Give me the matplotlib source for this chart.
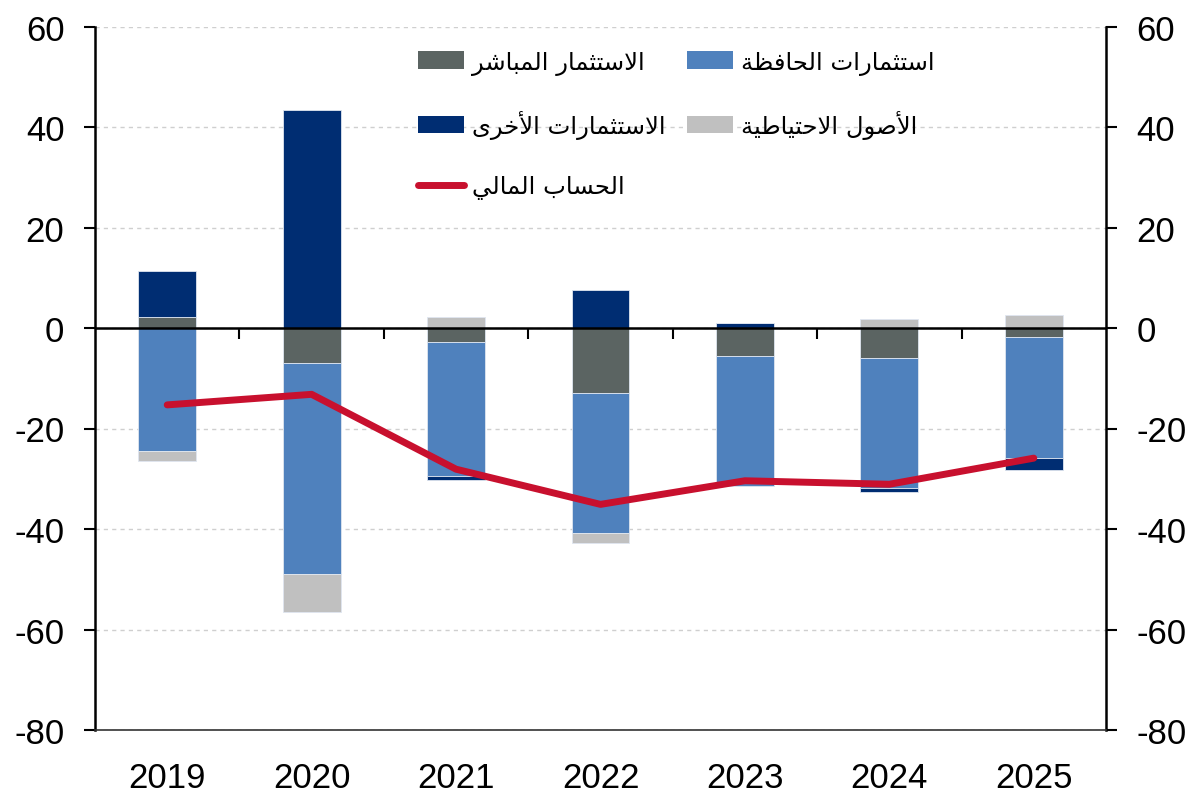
import matplotlib
matplotlib.use("Agg")
import matplotlib.pyplot as plt
import numpy as np
from matplotlib.patches import Patch
from matplotlib.lines import Line2D


years = ["2019", "2020", "2021", "2022", "2023", "2024", "2025"]
direct = [2.2, -7.0, -2.7, -13.0, -5.6, -6.0, -1.7]
portfolio = [-24.5, -42.0, -26.7, -27.7, -25.9, -25.8, -24.1]
other = [9.1, 43.4, -0.8, 7.6, 1.0, -0.8, -2.5]
reserve = [-2.0, -7.6, 2.1, -2.0, 0.0, 1.8, 2.6]
financial = [-15.3, -13.2, -28.1, -35.1, -30.4, -31.1, -25.9]

labels = {
    "direct": "الاستثمار المباشر",
    "portfolio": "استثمارات الحافظة",
    "other": "الاستثمارات الأخرى",
    "reserve": "الأصول الاحتياطية",
    "financial": "الحساب المالي",
}

colors = {
    "direct": "#5b6462",
    "portfolio": "#4f81bd",
    "other": "#002d72",
    "reserve": "#c0c0c0",
    "financial": "#c8102e",
}

# matplotlib has no Arabic shaping, so pick presentation forms by hand
# (isolated, final, initial, medial)
FORMS = {
    "ا": (0xFE8D, 0xFE8E, None, None),
    "أ": (0xFE83, 0xFE84, None, None),
    "ب": (0xFE8F, 0xFE90, 0xFE91, 0xFE92),
    "ة": (0xFE93, 0xFE94, None, None),
    "ت": (0xFE95, 0xFE96, 0xFE97, 0xFE98),
    "ث": (0xFE99, 0xFE9A, 0xFE9B, 0xFE9C),
    "ح": (0xFEA1, 0xFEA2, 0xFEA3, 0xFEA4),
    "خ": (0xFEA5, 0xFEA6, 0xFEA7, 0xFEA8),
    "ر": (0xFEAD, 0xFEAE, None, None),
    "س": (0xFEB1, 0xFEB2, 0xFEB3, 0xFEB4),
    "ش": (0xFEB5, 0xFEB6, 0xFEB7, 0xFEB8),
    "ص": (0xFEB9, 0xFEBA, 0xFEBB, 0xFEBC),
    "ط": (0xFEC1, 0xFEC2, 0xFEC3, 0xFEC4),
    "ظ": (0xFEC5, 0xFEC6, 0xFEC7, 0xFEC8),
    "ف": (0xFED1, 0xFED2, 0xFED3, 0xFED4),
    "ل": (0xFEDD, 0xFEDE, 0xFEDF, 0xFEE0),
    "م": (0xFEE1, 0xFEE2, 0xFEE3, 0xFEE4),
    "و": (0xFEED, 0xFEEE, None, None),
    "ى": (0xFEEF, 0xFEF0, None, None),
    "ي": (0xFEF1, 0xFEF2, 0xFEF3, 0xFEF4),
}
LAM_ALEF = {"ا": (0xFEFB, 0xFEFC), "أ": (0xFEF7, 0xFEF8)}


def shape(text):
    tokens = []
    i = 0
    while i < len(text):
        c = text[i]
        if c == "ل" and i + 1 < len(text) and text[i + 1] in LAM_ALEF:
            tokens.append(("la", text[i + 1]))
            i += 2
        else:
            tokens.append(("c", c))
            i += 1

    def is_letter(t):
        return t[0] == "la" or t[1] in FORMS

    def joins_next(t):
        return t[0] == "c" and t[1] in FORMS and FORMS[t[1]][2] is not None

    out = []
    for k, t in enumerate(tokens):
        prev = tokens[k - 1] if k > 0 else None
        nxt = tokens[k + 1] if k + 1 < len(tokens) else None
        p = prev is not None and joins_next(prev) and is_letter(t)
        if t[0] == "la":
            out.append(chr(LAM_ALEF[t[1]][1 if p else 0]))
            continue
        if t[1] not in FORMS:
            out.append(t[1])
            continue
        n = joins_next(t) and nxt is not None and is_letter(nxt)
        f = FORMS[t[1]]
        if p and n:
            out.append(chr(f[3]))
        elif p:
            out.append(chr(f[1]))
        elif n:
            out.append(chr(f[2]))
        else:
            out.append(chr(f[0]))
    return "".join(reversed(out))


plt.rcParams["font.family"] = ["Liberation Sans", "DejaVu Sans"]

fig = plt.figure(figsize=(12, 8.03), dpi=100)
ax = fig.add_axes([95 / 1200, 1 - 731 / 803, (1106 - 95) / 1200, (731 - 27.5) / 803])

x = np.arange(len(years))
width = 0.4
pos_base = np.zeros(len(years))
neg_base = np.zeros(len(years))
for key, vals in [("direct", direct), ("portfolio", portfolio), ("other", other), ("reserve", reserve)]:
    vals = np.array(vals)
    bottom = np.where(vals >= 0, pos_base, neg_base)
    ax.bar(x, vals, width, bottom=bottom, color=colors[key], edgecolor="#dfe6f0",
           linewidth=0.6, zorder=2)
    pos_base += np.where(vals >= 0, vals, 0)
    neg_base += np.where(vals < 0, vals, 0)

ax.axhline(0, color="black", linewidth=1.8, zorder=3)
ax.plot(x, financial, color=colors["financial"], linewidth=5, solid_capstyle="round",
        zorder=4)

ax.set_xlim(-0.5, len(years) - 0.5)
ax.set_ylim(-80, 60)
ax.set_yticks(np.arange(-80, 61, 20))
ax.set_yticklabels([str(v) for v in range(-80, 61, 20)])
ax.grid(axis="y", color="#cfcfcf", linestyle=(0, (3, 3)), linewidth=1, zorder=0)
ax.set_axisbelow(True)

ax.set_xticks(x)
ax.set_xticklabels(years)
ax.tick_params(axis="x", length=0, pad=22, labelsize=25)
ax.tick_params(axis="y", direction="out", length=8, width=1.5, labelsize=25,
               left=True, right=True, labelleft=True, labelright=True, pad=14)

ax.spines["top"].set_visible(False)
ax.spines["left"].set_linewidth(1.8)
ax.spines["right"].set_linewidth(1.8)
ax.spines["bottom"].set_linewidth(1.2)
ax.spines["bottom"].set_color("#333333")

# ticks on the zero line, between categories
zero = ax.secondary_xaxis(80 / 140)
for s in zero.spines.values():
    s.set_visible(False)
zero.set_xticks(np.arange(0.5, len(years) - 1, 1.0))
zero.set_xticklabels([])
zero.tick_params(axis="x", direction="in", length=8, width=1.5)

handles = [
    Patch(facecolor=colors["direct"], label=shape(labels["direct"])),
    Patch(facecolor=colors["other"], label=shape(labels["other"])),
    Line2D([0], [0], color=colors["financial"], linewidth=5, solid_capstyle="round",
           label=shape(labels["financial"])),
    Patch(facecolor=colors["portfolio"], label=shape(labels["portfolio"])),
    Patch(facecolor=colors["reserve"], label=shape(labels["reserve"])),
]
leg = ax.legend(handles=handles, ncol=2, loc="upper left", bbox_to_anchor=(0.298, 0.998),
                frameon=False, handlelength=1.9, handleheight=0.75,
                handletextpad=0.3, labelspacing=1.45, columnspacing=0.9,
                prop={"family": "DejaVu Sans", "size": 17.5})

fig.savefig("out.png", dpi=100)
